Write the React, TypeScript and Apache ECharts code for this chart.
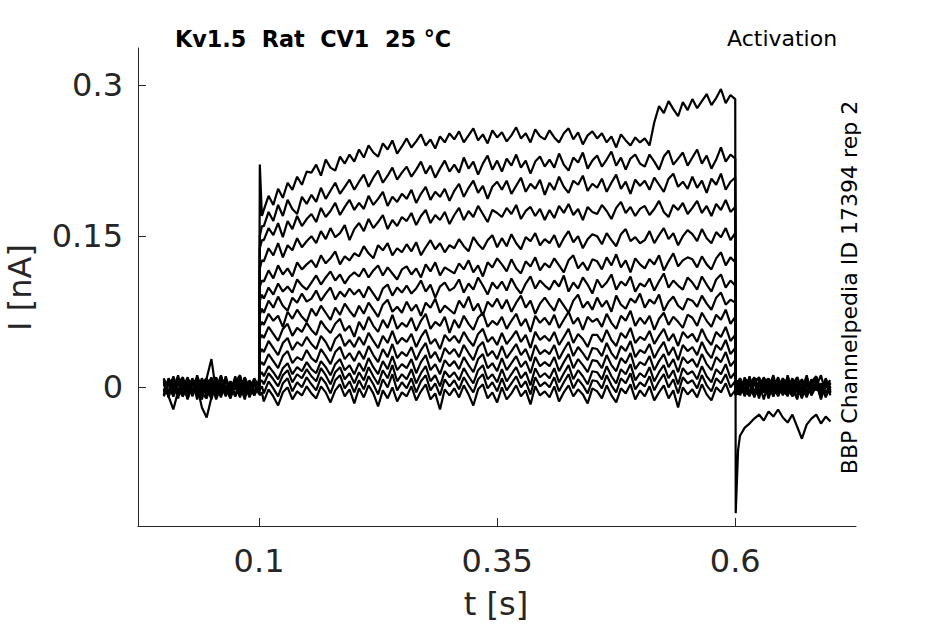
import React, { useEffect, useRef } from "react";
import * as echarts from "echarts";

// sample times [s]
const TIME = [
  0, 0.005, 0.01, 0.015, 0.02, 0.025, 0.03, 0.035, 0.04, 0.045, 0.05,
  0.055, 0.06, 0.065, 0.07, 0.075, 0.08, 0.085, 0.09, 0.095, 0.1,
  0.1008, 0.103,
  0.105, 0.11, 0.115, 0.12, 0.125, 0.13, 0.135, 0.14, 0.145, 0.15,
  0.155, 0.16, 0.165, 0.17, 0.175, 0.18, 0.185, 0.19, 0.195, 0.2,
  0.205, 0.21, 0.215, 0.22, 0.225, 0.23, 0.235, 0.24, 0.245, 0.25,
  0.255, 0.26, 0.265, 0.27, 0.275, 0.28, 0.285, 0.29, 0.295, 0.3,
  0.305, 0.31, 0.315, 0.32, 0.325, 0.33, 0.335, 0.34, 0.345, 0.35,
  0.355, 0.36, 0.365, 0.37, 0.375, 0.38, 0.385, 0.39, 0.395, 0.4,
  0.405, 0.41, 0.415, 0.42, 0.425, 0.43, 0.435, 0.44, 0.445, 0.45,
  0.455, 0.46, 0.465, 0.47, 0.475, 0.48, 0.485, 0.49, 0.495, 0.5,
  0.505, 0.51, 0.515, 0.52, 0.525, 0.53, 0.535, 0.54, 0.545, 0.55,
  0.555, 0.56, 0.565, 0.57, 0.575, 0.58, 0.585, 0.59, 0.595, 0.6,
  0.6005, 0.603,
  0.605, 0.61, 0.615, 0.62, 0.625, 0.63, 0.635, 0.64, 0.645, 0.65,
  0.655, 0.66, 0.665, 0.67, 0.675, 0.68, 0.685, 0.69, 0.695, 0.7,
];

// current traces in pA
const TRACE_01 = [
  7, -10, 11, -4, 6, -12, 3, 9, -6, -11, 8, -2, 12, -7, 4, -9, 10, -3, 6, -8, 2,
  221, 170,
  176, 190, 181, 197, 188, 203, 196, 209, 201, 214,
  213, 221, 210, 226, 218, 215, 229, 222, 231, 224,
  236, 228, 240, 233, 229, 242, 236, 245, 232, 239,
  247, 238, 244, 251, 240, 246, 237, 249, 243, 252,
  246, 254, 243, 250, 257, 245, 251, 242, 255, 248,
  253, 244, 250, 258, 247, 252, 243, 256, 249, 246,
  255, 248, 243, 252, 257, 246, 253, 241, 250, 254,
  247, 252, 243, 249, 238, 251, 245, 240, 248, 243,
  247, 240, 263, 279, 272, 284, 276, 269, 283, 275,
  286, 277, 284, 291, 280, 287, 296, 282, 290, 286,
  -125, -62,
  -48, -40, -36, -31, -27, -33, -24, -29, -22, -30,
  -35, -27, -39, -51, -37, -31, -27, -36, -29, -34,
];
const TRACE_02 = [
  -8, 9, -2, 12, -9, 5, -4, 10, -7, 1, -12, 6, -1, 9, -5, 11, -8, 3, -10, 5, -3,
  150, 160,
  160, 174, 165, 181, 170, 186, 177, 172, 189, 182,
  191, 184, 198, 187, 195, 203, 192, 199, 206, 196,
  204, 211, 199, 208, 215, 203, 210, 218, 206, 213,
  219, 209, 216, 224, 212, 220, 208, 217, 225, 214,
  221, 213, 228, 217, 224, 211, 222, 230, 216, 225,
  214, 227, 220, 231, 218, 225, 212, 224, 229, 219,
  226, 218, 232, 221, 215, 228, 223, 233, 217, 225,
  230, 219, 226, 234, 220, 228, 216, 227, 231, 222,
  219, 231, 224, 216, 229, 235, 221, 227, 233, 220,
  228, 236, 222, 230, 217, 226, 238, 224, 231, 227,
  -8, 5,
  9, -5, 11, -8, 4, -12, 6, -2, 10, -7,
  1, -9, 8, -4, 12, -6, 3, -10, 6, -1,
];
const TRACE_03 = [
  9, -5, 4, -11, 7, -1, 8, -12, 5, -4, 10, -8, 3, -9, 6, -2, 11, -6, 1, -8, 4,
  138, 146,
  146, 158, 151, 163, 149, 165, 157, 170, 160, 167,
  172, 164, 178, 169, 175, 183, 171, 179, 186, 176,
  183, 177, 190, 181, 187, 194, 180, 189, 184, 192,
  187, 196, 183, 192, 199, 186, 194, 189, 197, 185,
  195, 202, 189, 198, 205, 193, 200, 187, 199, 204,
  196, 205, 192, 200, 208, 194, 202, 197, 206, 191,
  203, 196, 209, 199, 193, 205, 201, 210, 195, 202,
  198, 207, 194, 203, 211, 197, 204, 192, 206, 200,
  205, 196, 208, 201, 194, 207, 212, 199, 204, 197,
  209, 198, 205, 193, 207, 201, 212, 196, 204, 208,
  4, -7,
  -4, 10, -7, 5, -11, 8, -1, 12, -6, 3,
  -9, 7, 0, -8, 9, -3, 5, -12, 4, -6,
];
const TRACE_04 = [
  -4, 7, -9, 5, -2, 10, -6, 3, -12, 8, -3, 5, -8, 11, -4, 1, -10, 6, -5, 9, -1,
  118, 126,
  125, 138, 131, 143, 129, 141, 136, 148, 139, 145,
  150, 143, 155, 147, 158, 149, 153, 161, 146, 157,
  163, 155, 167, 158, 164, 171, 157, 166, 160, 169,
  165, 173, 161, 170, 176, 163, 171, 166, 174, 162,
  171, 178, 166, 175, 169, 180, 172, 164, 176, 173,
  169, 178, 172, 181, 167, 175, 179, 170, 177, 166,
  176, 168, 180, 173, 182, 171, 177, 166, 179, 174,
  172, 181, 175, 167, 178, 184, 173, 179, 170, 177,
  180, 171, 177, 185, 174, 169, 181, 176, 183, 172,
  178, 185, 173, 180, 170, 182, 176, 186, 174, 179,
  -5, 3,
  7, -8, 3, 10, -5, 5, -11, 4, -3, 9,
  -6, 1, -12, 8, -4, 5, 11, -8, 3, -5,
];
const TRACE_05 = [
  6, -9, 3, 8, -6, 4, -8, 12, -2, 5, -7, 9, -4, 1, -10, 8, -3, 7, -8, 3, -5,
  100, 106,
  105, 116, 108, 121, 112, 118, 110, 124, 117, 122,
  126, 119, 131, 123, 128, 135, 122, 130, 126, 133,
  130, 140, 133, 128, 141, 136, 143, 131, 138, 134,
  142, 135, 144, 131, 139, 146, 137, 143, 134, 141,
  138, 147, 140, 135, 149, 142, 137, 146, 151, 139,
  148, 140, 152, 143, 137, 149, 145, 153, 141, 147,
  143, 151, 139, 148, 155, 144, 150, 138, 147, 152,
  150, 142, 153, 146, 140, 152, 157, 145, 149, 143,
  146, 155, 143, 151, 158, 147, 153, 141, 150, 156,
  152, 145, 157, 148, 143, 154, 149, 158, 146, 153,
  3, -7,
  -5, 8, -9, 4, 10, -3, 7, -8, 5, -1,
  9, -7, 3, -11, 8, -4, 1, 12, -6, 4,
];
const TRACE_06 = [
  -8, 4, 9, -5, 3, -11, 7, -4, 8, -7, 4, -9, 11, -1, 6, -8, 3, -12, 7, -3, 5,
  86, 92,
  88, 99, 92, 103, 95, 100, 94, 107, 101, 97,
  104, 111, 102, 109, 115, 106, 112, 103, 110, 114,
  110, 118, 109, 116, 121, 111, 119, 113, 107, 117,
  120, 112, 118, 109, 122, 115, 124, 111, 119, 116,
  113, 123, 117, 126, 114, 121, 110, 124, 119, 128,
  122, 115, 127, 118, 113, 125, 120, 129, 116, 123,
  119, 128, 121, 114, 126, 131, 118, 124, 116, 127,
  125, 117, 129, 121, 132, 119, 126, 114, 128, 122,
  118, 127, 122, 131, 116, 125, 133, 120, 126, 129,
  127, 119, 130, 122, 117, 128, 134, 121, 129, 124,
  6, -3,
  3, -7, 8, -10, 5, -1, 9, -6, 4, -8,
  12, -4, 2, -9, 7, -3, 10, -7, 3, -4,
];
const TRACE_07 = [
  5, -7, 8, -2, -9, 7, -4, 10, -5, 3, 9, -8, 4, -1, -11, 5, 12, -4, 2, -7, 8,
  72, 78,
  74, 86, 79, 90, 81, 76, 89, 84, 93, 85,
  88, 96, 86, 93, 99, 87, 95, 90, 98, 92,
  97, 89, 100, 93, 86, 98, 102, 91, 99, 94,
  101, 93, 98, 106, 95, 102, 89, 100, 104, 96,
  99, 107, 94, 103, 97, 109, 101, 92, 104, 98,
  105, 96, 108, 99, 93, 103, 110, 98, 106, 101,
  97, 106, 100, 111, 95, 104, 98, 109, 102, 93,
  107, 99, 104, 112, 97, 105, 101, 110, 95, 103,
  100, 108, 96, 105, 113, 99, 106, 101, 97, 109,
  104, 97, 110, 102, 95, 107, 112, 99, 106, 101,
  -4, 4,
  -8, 4, -4, 8, -7, 10, -1, 5, -9, 7,
  -3, 9, -5, 1, -10, 4, 8, -7, 3, -3,
];
const TRACE_08 = [
  -3, 8, -7, 4, 10, -8, 5, -4, 7, -10, 3, -5, 9, -1, -8, 7, 4, -9, 1, 8, -4,
  60, 65,
  62, 73, 66, 71, 60, 75, 68, 77, 70, 65,
  78, 71, 81, 74, 67, 79, 72, 83, 76, 70,
  81, 73, 84, 77, 70, 82, 87, 75, 80, 74,
  85, 76, 82, 71, 84, 79, 88, 74, 81, 77,
  73, 86, 79, 90, 76, 83, 71, 85, 80, 88,
  78, 87, 75, 84, 91, 79, 86, 73, 83, 89,
  82, 76, 88, 81, 74, 86, 92, 79, 85, 77,
  89, 80, 86, 75, 91, 82, 78, 88, 84, 93,
  79, 87, 83, 92, 76, 85, 90, 81, 77, 88,
  86, 80, 91, 83, 77, 89, 94, 82, 87, 84,
  2, -5,
  9, -3, -8, 5, -4, 7, 8, -7, 3, -5,
  10, -1, -9, 4, 7, -8, 1, -4, 9, -3,
];
const TRACE_09 = [
  8, -4, 5, -8, 4, 7, -9, 3, -5, 9, -3, 10, -7, 1, -10, 5, -1, 8, -8, 4, -3,
  48, 52,
  49, 60, 53, 46, 58, 63, 51, 59, 55, 64,
  57, 52, 66, 59, 54, 63, 68, 56, 61, 50,
  65, 57, 70, 61, 55, 67, 59, 72, 58, 64,
  60, 69, 56, 66, 73, 58, 65, 61, 70, 54,
  67, 59, 71, 63, 57, 69, 74, 60, 66, 62,
  70, 58, 66, 73, 61, 68, 55, 71, 64, 69,
  62, 72, 59, 67, 75, 63, 69, 57, 70, 65,
  68, 60, 73, 64, 58, 71, 66, 76, 61, 69,
  63, 71, 57, 68, 74, 62, 70, 65, 59, 72,
  69, 61, 74, 66, 60, 72, 67, 77, 63, 70,
  -3, 6,
  -7, 5, 3, -9, 7, -5, 4, 9, -8, 0,
  8, -4, -10, 5, 1, -7, 10, -3, 4, -8,
];
const TRACE_10 = [
  -5, 3, -9, 7, -4, 8, 4, -7, 9, -3, 5, -10, 1, 8, -5, 4, -8, 10, -1, 7, -4,
  34, 38,
  35, 46, 39, 32, 44, 49, 37, 45, 41, 50,
  43, 38, 51, 45, 36, 48, 53, 41, 47, 40,
  50, 42, 54, 46, 39, 51, 44, 56, 43, 49,
  45, 53, 40, 50, 57, 43, 48, 38, 52, 46,
  51, 44, 55, 47, 41, 53, 58, 45, 50, 42,
  54, 43, 49, 56, 45, 52, 39, 55, 47, 51,
  46, 55, 42, 50, 58, 44, 53, 48, 40, 52,
  52, 45, 57, 47, 41, 54, 49, 59, 44, 50,
  47, 56, 43, 51, 58, 46, 53, 41, 55, 49,
  53, 45, 58, 48, 42, 55, 50, 60, 46, 52,
  5, -2,
  4, -9, 7, -3, -7, 8, -4, 5, -8, 9,
  1, -5, 10, -3, -8, 4, 7, -10, 3, -1,
];
const TRACE_11 = [
  4, -8, 7, 3, -5, 8, -4, 1, -20, -30, -10, 5, -7, 8, -4, 7, -3, 9, -8, 3, -1,
  22, 25,
  22, 33, 26, 19, 31, 36, 24, 30, 27, 37,
  29, 25, 38, 31, 23, 35, 40, 28, 34, 26,
  36, 28, 41, 32, 25, 38, 30, 43, 29, 35,
  31, 40, 27, 37, 44, 29, 35, 25, 39, 33,
  38, 30, 42, 34, 27, 40, 45, 31, 36, 28,
  41, 29, 36, 43, 32, 38, 26, 42, 33, 37,
  33, 42, 28, 37, 45, 31, 40, 34, 27, 39,
  38, 31, 44, 34, 28, 41, 36, 46, 30, 37,
  34, 43, 29, 38, 45, 32, 40, 27, 42, 36,
  40, 32, 45, 35, 29, 42, 37, 47, 33, 39,
  -2, 7,
  5, -4, -8, 7, 9, -5, 3, -9, 4, -1,
  -7, 8, 1, -10, 5, -3, 9, -5, 3, 7,
];
const TRACE_12 = [
  -7, 5, -4, 8, 3, -8, 7, -3, 4, 9, 28, -5, 4, -8, 5, -1, 8, -7, 3, -4, 1,
  12, 15,
  11, 21, 15, 8, 19, 24, 13, 20, 16, 25,
  18, 14, 26, 20, 12, 23, 28, 17, 22, 13,
  24, 16, 29, 20, 13, 26, 18, 31, 17, 23,
  19, 28, 14, 25, 32, 17, 23, 13, 27, 21,
  26, 18, 30, 22, 15, 28, 33, 19, 24, 16,
  29, 17, 24, 31, 20, 26, 14, 30, 21, 25,
  21, 30, 16, 25, 33, 19, 28, 22, 15, 27,
  26, 19, 32, 22, 16, 29, 24, 34, 18, 25,
  22, 31, 17, 26, 33, 20, 28, 15, 30, 24,
  28, 20, 33, 23, 17, 30, 25, 35, 21, 27,
  3, -4,
  -3, 7, -5, 9, -8, 3, 8, -4, -7, 5,
  1, -9, 7, -3, 10, -5, 4, -8, 3, -1,
];
const TRACE_13 = [
  3, -9, -22, -4, 5, -7, 9, -3, 4, -8, 7, -1, 10, -5, 3, -9, 5, 1, -7, 8, -3,
  5, 7,
  3, 14, 8, 1, 12, 17, 5, 13, 9, 18,
  11, 6, 19, 12, 3, 15, 20, 8, 14, 4,
  15, 7, 20, 11, 3, 17, 9, 22, 6, 13,
  8, 18, 4, 14, 21, 6, 12, 1, 16, 10,
  15, 7, 19, 11, 4, 17, 22, 8, 13, 5,
  18, 6, 13, 20, 9, 15, 2, 19, 10, 14,
  9, 19, 5, 14, 22, 8, 17, 11, 3, 16,
  15, 8, 21, 11, 4, 18, 13, 23, 7, 14,
  10, 20, 6, 15, 22, 9, 17, 3, 19, 13,
  16, 8, 21, 11, 5, 18, 13, 23, 9, 15,
  -6, 3,
  8, -5, 4, -7, 3, 9, -9, 5, 7, -4,
  -8, 3, 10, -1, -5, 8, -3, 4, -10, 1,
];
const TRACE_14 = [
  -9, 4, -3, 7, -7, 3, -5, 5, -4, 8, -8, 1, -10, 7, -1, 4, -5, 9, -3, 5, -7,
  -2, 1,
  -6, 6, -1, -9, 4, 9, -4, 5, 0, 10,
  3, -3, 10, 4, -6, 7, 12, -1, 6, -5,
  7, -2, 11, 3, -7, 8, 0, 13, -3, 5,
  -1, 9, -5, 6, 12, -3, 4, -8, 8, 1,
  7, -2, 10, 2, -5, 8, 13, -1, 5, -4,
  9, -3, 4, 11, 0, 6, -7, 10, 1, 5,
  0, 10, -4, 5, 13, -1, 8, 2, -6, 7,
  6, -1, 12, 2, -5, 9, 4, 14, -2, 5,
  1, 11, -3, 6, 13, 0, 8, -6, 10, 4,
  7, -1, 12, 2, -4, 9, 4, 13, 0, 6,
  4, -5,
  -4, 8, 5, -8, 4, -3, 7, -9, 9, 1,
  -5, 4, -1, 8, -7, 3, 10, -4, 0, 5,
];
const TRACE_15 = [
  5, -5, 3, -8, 9, -4, 7, -9, 3, -5, 4, -12, 1, 8, -7, 4, -3, 7, -9, 3, -1,
  -8, -5,
  -14, -2, -9, -18, -5, 0, -12, -4, -8, 1,
  -6, -11, 1, -5, -15, -3, 3, -9, -2, -16,
  -1, -10, 2, -6, -19, -3, -11, 0, -14, -5,
  -9, 1, -13, -4, 3, -12, -6, -22, -2, -8,
  -1, -10, 2, -7, -18, -2, 3, -11, -5, -15,
  0, -12, -6, 2, -9, -3, -17, 1, -8, -4,
  -10, 1, -14, -5, 2, -9, -2, -7, -16, -1,
  -4, -11, 2, -8, -15, -1, -6, 3, -12, -3,
  -9, 1, -13, -5, 2, -11, -3, -20, 0, -7,
  -2, -10, 3, -7, -13, 0, -5, 4, -9, -3,
  -8, 4,
  7, -3, 9, -4, -8, 4, -5, 8, -7, 3,
  5, -8, 1, -4, 9, -7, 3, -1, 7, -5,
];

const TRACES = [
  TRACE_01, TRACE_02, TRACE_03, TRACE_04, TRACE_05,
  TRACE_06, TRACE_07, TRACE_08, TRACE_09, TRACE_10,
  TRACE_11, TRACE_12, TRACE_13, TRACE_14, TRACE_15,
];

const X_TICKS = [0.1, 0.35, 0.6];
const Y_TICKS = [0, 0.15, 0.3];

const TITLE = "Kv1.5  Rat  CV1  25 °C";
const PROTOCOL = "Activation";
const SIDE_NOTE = "BBP Channelpedia ID 17394 rep 2";
const X_NAME = "t [s]";
const Y_NAME = "I [nA]";

const FONT = '"DejaVu Sans", "Liberation Sans", sans-serif';
const AXIS_COLOR = "#262626";

export default function App() {
  const ref = useRef<HTMLDivElement | null>(null);

  useEffect(() => {
    if (!ref.current) return;
    const chart = echarts.init(ref.current, undefined, { renderer: "svg" });

    const series = TRACES.map((tr, i) => ({
      type: "line" as const,
      name: "trace " + (i + 1),
      data: TIME.map((t, k) => [t, tr[k] / 1000]),
      showSymbol: false,
      symbol: "none",
      silent: true,
      lineStyle: { color: "#000000", width: 2.2 },
      z: 2,
    }));

    const textStyle = (size: number, weight: string = "normal") => ({
      fontFamily: FONT,
      fontSize: size,
      fontWeight: weight,
    });

    chart.setOption({
      animation: false,
      backgroundColor: "#ffffff",
      grid: { left: 138, right: 89, top: 48, bottom: 98, containLabel: false },
      xAxis: {
        type: "value",
        min: -0.0271,
        max: 0.7268,
        axisLine: { show: true, onZero: false, lineStyle: { color: AXIS_COLOR, width: 1 } },
        axisTick: {
          show: true,
          inside: true,
          length: 8,
          customValues: X_TICKS,
          lineStyle: { color: AXIS_COLOR, width: 1 },
        },
        axisLabel: {
          customValues: X_TICKS,
          color: AXIS_COLOR,
          fontFamily: FONT,
          fontSize: 32,
          margin: 19,
          formatter: (v: number) => String(v),
        },
        splitLine: { show: false },
      },
      yAxis: {
        type: "value",
        min: -0.1376,
        max: 0.3367,
        axisLine: { show: true, onZero: false, lineStyle: { color: AXIS_COLOR, width: 1 } },
        axisTick: {
          show: true,
          inside: true,
          length: 8,
          customValues: Y_TICKS,
          lineStyle: { color: AXIS_COLOR, width: 1 },
        },
        axisLabel: {
          customValues: Y_TICKS,
          color: AXIS_COLOR,
          fontFamily: FONT,
          fontSize: 32,
          margin: 15,
          formatter: (v: number) => String(v),
        },
        splitLine: { show: false },
      },
      graphic: [
        {
          type: "text",
          x: 175,
          y: 39,
          silent: true,
          style: {
            text: TITLE,
            fill: "#000",
            ...textStyle(22.3, "bold"),
            align: "left",
            verticalAlign: "middle",
            textAlign: "left",
            textVerticalAlign: "middle",
          },
        },
        {
          type: "text",
          x: 727,
          y: 38.5,
          silent: true,
          style: {
            text: PROTOCOL,
            fill: "#000",
            ...textStyle(22),
            align: "left",
            verticalAlign: "middle",
            textAlign: "left",
            textVerticalAlign: "middle",
          },
        },
        {
          type: "text",
          x: 849,
          y: 287.5,
          rotation: Math.PI / 2,
          silent: true,
          style: {
            text: SIDE_NOTE,
            fill: "#000",
            ...textStyle(22),
            align: "center",
            verticalAlign: "middle",
            textAlign: "center",
            textVerticalAlign: "middle",
          },
        },
        {
          type: "text",
          x: 496,
          y: 604,
          silent: true,
          style: {
            text: X_NAME,
            fill: AXIS_COLOR,
            ...textStyle(32),
            align: "center",
            verticalAlign: "middle",
            textAlign: "center",
            textVerticalAlign: "middle",
          },
        },
        {
          type: "text",
          x: 20,
          y: 287.5,
          rotation: Math.PI / 2,
          silent: true,
          style: {
            text: Y_NAME,
            fill: AXIS_COLOR,
            ...textStyle(32),
            align: "center",
            verticalAlign: "middle",
            textAlign: "center",
            textVerticalAlign: "middle",
          },
        },
      ],
      series,
    });

    return () => {
      chart.dispose();
    };
  }, []);

  return (
    <div
      ref={ref}
      style={{
        position: "fixed",
        left: 0,
        top: 0,
        width: 945,
        height: 624,
        background: "#ffffff",
      }}
    />
  );
}
